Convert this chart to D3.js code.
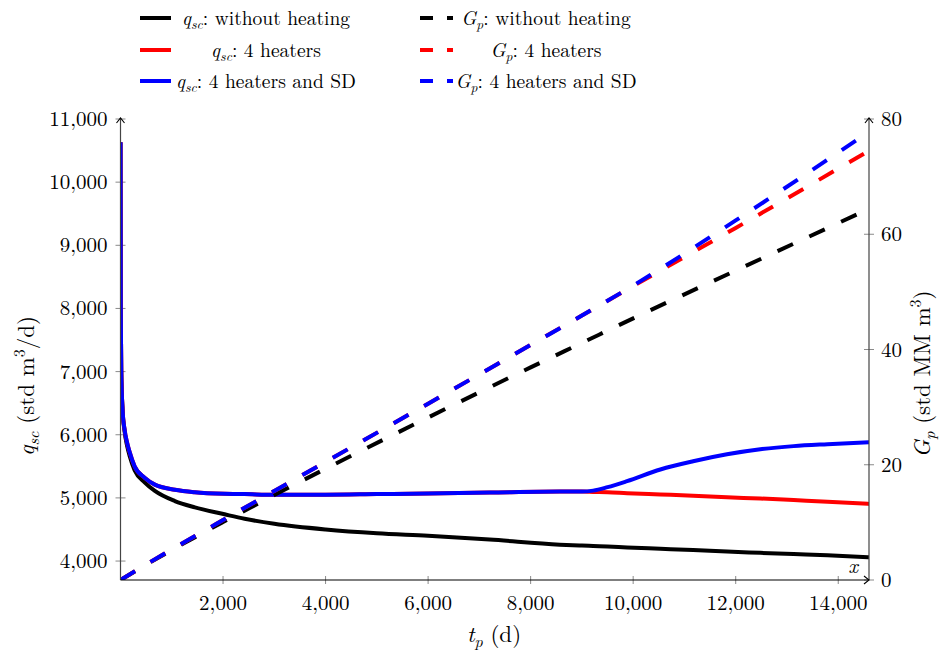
<!DOCTYPE html>
<html><head><meta charset="utf-8">
<script src="https://cdn.jsdelivr.net/npm/d3@7"></script>
<style>
body{margin:0;background:#fff;}
svg{display:block;}
text{font-family:"Latin Modern Roman","CMU Serif","Liberation Serif","Times New Roman",serif;fill:#000;}
</style></head>
<body><svg id="c" width="941" height="653"></svg>
<script>
// ---- data ----
const tQ = [0, 5, 15, 40, 80, 130, 180, 275, 470, 670, 1060, 1450, 2030, 2420, 3000, 4000, 5000, 6000, 7200, 8570, 9000, 9220, 9500, 9880, 10530, 11170, 11830, 12480, 13130, 13790, 14600];
const qBlack = [10630, 8000, 7000, 6400, 6050, 5820, 5660, 5440, 5245, 5110, 4950, 4850, 4740, 4670, 4590, 4500, 4440, 4400, 4340, 4260, 4245, 4238, 4230, 4215, 4195, 4175, 4150, 4130, 4110, 4090, 4060];
const qRed   = [10630, 8000, 7000, 6400, 6080, 5870, 5720, 5500, 5320, 5210, 5130, 5090, 5065, 5060, 5050, 5050, 5060, 5070, 5085, 5100, 5100, 5095, 5090, 5075, 5055, 5035, 5010, 4990, 4965, 4940, 4905];
const qBlue  = [10630, 8000, 7000, 6400, 6080, 5870, 5720, 5500, 5320, 5210, 5130, 5090, 5065, 5060, 5050, 5050, 5060, 5070, 5085, 5100, 5100, 5115, 5170, 5265, 5450, 5580, 5690, 5770, 5820, 5850, 5880];
const tG = [0, 500, 1000, 2000, 3000, 4000, 6000, 8000, 9000, 10000, 12000, 14600];
const gBlack = [0, 2.65, 5.2, 10.05, 14.74, 19.3, 28.2, 36.9, 41.15, 45.4, 53.7, 64.4];
const gRed   = [0, 2.7, 5.3, 10.4, 15.45, 20.5, 30.6, 40.8, 45.9, 51.0, 61.1, 74.5];
const gBlue  = [0, 2.7, 5.3, 10.4, 15.45, 20.5, 30.6, 40.8, 45.9, 51.1, 62.4, 77.8];
const xTicks = [2000, 4000, 6000, 8000, 10000, 12000, 14000];
const yLeftTicks = [4000, 5000, 6000, 7000, 8000, 9000, 10000, 11000];
const yRightTicks = [0, 20, 40, 60, 80];
const legendLabels = [
  ["q","sc",": without heating"], ["q","sc",": 4 heaters"], ["q","sc",": 4 heaters and SD"],
  ["G","p",": without heating"], ["G","p",": 4 heaters"], ["G","p",": 4 heaters and SD"]
];
const colors = ["#000000", "#ff0000", "#0000ff"];

// ---- layout ----
const L = 120.5, R = 869, T = 119, B = 580;
const svg = d3.select("#c");
const x = d3.scaleLinear().domain([0, 14600]).range([L, R]);
const yL = d3.scaleLinear().domain([3700, 11000]).range([B, T]);
const yR = d3.scaleLinear().domain([0, 80]).range([B, T]);

svg.append("defs").append("clipPath").attr("id","clip")
  .append("rect").attr("x",L).attr("y",T-2).attr("width",R-L).attr("height",B-T+2);

const tickCol = "#8a8a8a";
const xa = svg.append("g");
xTicks.forEach(v=>{
  xa.append("line").attr("x1",x(v)).attr("x2",x(v)).attr("y1",B-4).attr("y2",B+4).attr("stroke",tickCol).attr("stroke-width",1);
  xa.append("text").attr("x",x(v)).attr("y",B+30).attr("text-anchor","middle").attr("font-size",21).text(d3.format(",")(v));
});
yLeftTicks.forEach(v=>{
  xa.append("line").attr("x1",L-5).attr("x2",L+5).attr("y1",yL(v)).attr("y2",yL(v)).attr("stroke",tickCol).attr("stroke-width",1);
  xa.append("text").attr("x",L-13).attr("y",yL(v)+7).attr("text-anchor","end").attr("font-size",21).text(d3.format(",")(v));
});
yRightTicks.forEach(v=>{
  xa.append("line").attr("x1",R-5).attr("x2",R+5).attr("y1",yR(v)).attr("y2",yR(v)).attr("stroke",tickCol).attr("stroke-width",1);
  xa.append("text").attr("x",R+12).attr("y",yR(v)+7).attr("text-anchor","start").attr("font-size",21).text(v);
});

// series
const lineQ = d3.line().x(d=>x(d[0])).y(d=>yL(d[1])).curve(d3.curveMonotoneX);
const lineG = d3.line().x(d=>x(d[0])).y(d=>yR(d[1])).curve(d3.curveMonotoneX);
const plot = svg.append("g").attr("clip-path","url(#clip)");
[qBlack,qRed,qBlue].forEach((arr,i)=>{
  plot.append("path").datum(tQ.map((t,j)=>[t,arr[j]])).attr("d",lineQ)
    .attr("fill","none").attr("stroke",colors[i]).attr("stroke-width",4).attr("stroke-linejoin","round");
});
[gBlack,gRed,gBlue].forEach((arr,i)=>{
  plot.append("path").datum(tG.map((t,j)=>[t,arr[j]])).attr("d",lineG)
    .attr("fill","none").attr("stroke",colors[i]).attr("stroke-width",4).attr("stroke-dasharray","17,18");
});

// axis lines
const ax = svg.append("g").attr("fill","none");
ax.append("line").attr("x1",L).attr("x2",L).attr("y1",B).attr("y2",T-1).attr("stroke","#444").attr("stroke-width",1.2);
ax.append("line").attr("x1",R).attr("x2",R).attr("y1",B).attr("y2",T-1).attr("stroke","#444").attr("stroke-width",1.2);
ax.append("line").attr("x1",L).attr("x2",R).attr("y1",B).attr("y2",B).attr("stroke","#000").attr("stroke-width",1.2);
ax.append("path").attr("d",`M${L-4},${T+4} L${L},${T-1} L${L+4},${T+4}`).attr("stroke","#000").attr("stroke-width",1.1);
ax.append("path").attr("d",`M${R-4},${T+4} L${R},${T-1} L${R+4},${T+4}`).attr("stroke","#000").attr("stroke-width",1.1);
ax.append("path").attr("d",`M${R-5},${B-4} L${R},${B} L${R-5},${B+4}`).attr("stroke","#000").attr("stroke-width",1.1);

svg.append("text").attr("x",853).attr("y",573).attr("text-anchor","middle").attr("font-size",21).attr("font-style","italic").text("x");

function mathLabel(sel, sym, sub, rest, size){
  sel.append("tspan").attr("font-style","italic").text(sym);
  sel.append("tspan").attr("font-style","italic").attr("font-size",size*0.7).attr("dy",size*0.2).text(sub);
  sel.append("tspan").attr("dy",-size*0.2).text(rest);
}
// axis labels
const LS = 23;
const xl = svg.append("text").attr("x",494).attr("y",642).attr("text-anchor","middle").attr("font-size",LS);
mathLabel(xl,"t","p"," (d)",LS);
const yl = svg.append("text").attr("transform","translate(34,386) rotate(-90)").attr("text-anchor","middle").attr("font-size",LS);
yl.append("tspan").attr("font-style","italic").text("q");
yl.append("tspan").attr("font-style","italic").attr("font-size",LS*0.7).attr("dy",4.5).text("sc");
yl.append("tspan").attr("dy",-4.5).text(" (std m");
yl.append("tspan").attr("font-size",LS*0.7).attr("dy",-9).text("3");
yl.append("tspan").attr("dy",9).text("/d)");
const yr = svg.append("text").attr("transform","translate(930,374) rotate(-90)").attr("text-anchor","middle").attr("font-size",LS);
yr.append("tspan").attr("font-style","italic").text("G");
yr.append("tspan").attr("font-style","italic").attr("font-size",LS*0.7).attr("dy",4.5).text("p");
yr.append("tspan").attr("dy",-4.5).text(" (std MM m");
yr.append("tspan").attr("font-size",LS*0.7).attr("dy",-9).text("3");
yr.append("tspan").attr("dy",9).text(")");

// legend
const rows = [18, 50, 81];
const LF = 19.5;
const lg = svg.append("g");
for(let c=0;c<2;c++){
  for(let r=0;r<3;r++){
    const lab = legendLabels[c*3+r];
    const x0 = c===0 ? 140 : 420, x1 = c===0 ? 171 : 453;
    lg.append("line").attr("x1",x0).attr("x2",x1).attr("y1",rows[r]).attr("y2",rows[r])
      .attr("stroke",colors[r]).attr("stroke-width",4).attr("stroke-dasharray", c===1 ? "13,14" : null);
    const t = lg.append("text").attr("x", c===0 ? 266 : 546).attr("y",rows[r]+7).attr("text-anchor","middle").attr("font-size",LF);
    mathLabel(t, lab[0], lab[1], lab[2], LF);
  }
}
</script></body></html>
